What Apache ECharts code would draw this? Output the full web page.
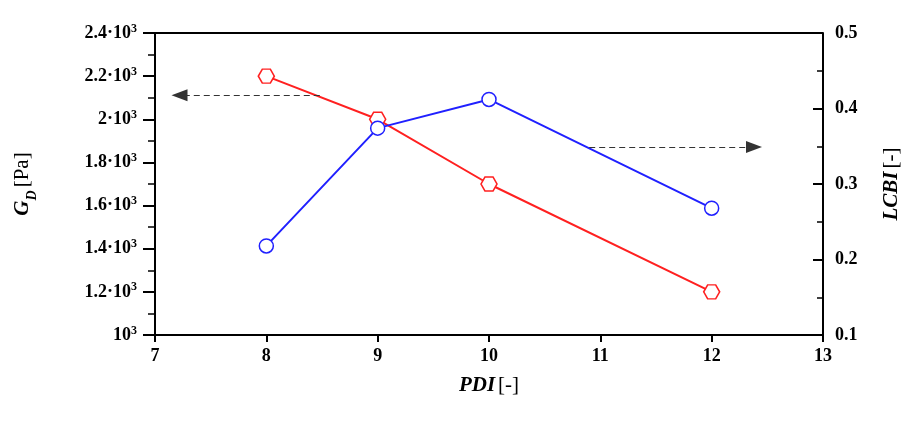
<!DOCTYPE html>
<html>
<head>
<meta charset="UTF-8">
<script src="https://cdn.jsdelivr.net/npm/echarts@6/dist/echarts.min.js"></script>
</head>
<body style="margin:0;background:#fff">
<div id="main" style="width:919px;height:423px;"></div>
<script>
var pdi = [8, 9, 10, 12];
var gd = [2200, 2000, 1700, 1200];
var lcbi = [0.218, 0.374, 0.412, 0.268];
var leftTicks = {1000: '10', 1200: '1.2·10', 1400: '1.4·10', 1600: '1.6·10', 1800: '1.8·10',
    2000: '2·10', 2200: '2.2·10', 2400: '2.4·10'};

var hexagon = 'path://M-1,0 L-0.5,-0.866 L0.5,-0.866 L1,0 L0.5,0.866 L-0.5,0.866 Z';
var font = 'Liberation Serif';

var myChart = echarts.init(document.getElementById('main'));
var option = {
    textStyle: {fontFamily: font},
    grid: {left: 155, right: 96, top: 33, bottom: 88},
    xAxis: {
        type: 'value', min: 7, max: 13, interval: 1,
        name: '{i|PDI} {n|[-]}', nameLocation: 'middle', nameGap: 40,
        nameTextStyle: {rich: {i: {fontStyle: 'italic', fontWeight: 'bold', fontSize: 21, fontFamily: font},
            n: {fontSize: 21, fontFamily: font}}},
        axisLine: {lineStyle: {color: '#000', width: 2}},
        axisTick: {inside: false, length: 7, lineStyle: {width: 2}},
        axisLabel: {color: '#000', fontWeight: 'bold', fontSize: 18, margin: 12},
        splitLine: {show: false}
    },
    yAxis: [{
        type: 'value', min: 1000, max: 2400, interval: 200,
        name: '{i|G}{s|D} {n|[Pa]}', nameLocation: 'middle', nameGap: 122,
        nameTextStyle: {rich: {i: {fontStyle: 'italic', fontWeight: 'bold', fontSize: 21, fontFamily: font},
            s: {fontStyle: 'italic', fontWeight: 'bold', fontSize: 14, fontFamily: font, verticalAlign: 'bottom', padding: [0, 0, -6, 0]},
            n: {fontSize: 21, fontFamily: font}}},
        axisLine: {show: true, lineStyle: {color: '#000', width: 2}},
        axisTick: {show: true, length: 12, lineStyle: {width: 2}},
        minorTick: {show: true, splitNumber: 2, length: 7, lineStyle: {color: '#000', width: 1.5}},
        axisLabel: {
            color: '#000', margin: 18,
            formatter: function (v) { return '{b|' + leftTicks[v] + '}{s|3}'; },
            rich: {b: {fontWeight: 'bold', fontSize: 18, fontFamily: font, color: '#000'},
                s: {fontWeight: 'bold', fontSize: 12, fontFamily: font, color: '#000', verticalAlign: 'top', padding: [0, 0, 9, 0]}}
        },
        splitLine: {show: false}
    }, {
        type: 'value', min: 0.1, max: 0.5, interval: 0.1, position: 'right',
        name: '{i|LCBI} {n|[-]}', nameLocation: 'middle', nameGap: 58, nameRotate: 90,
        nameTextStyle: {rich: {i: {fontStyle: 'italic', fontWeight: 'bold', fontSize: 21, fontFamily: font},
            n: {fontSize: 21, fontFamily: font}}},
        axisLine: {show: true, lineStyle: {color: '#000', width: 2}},
        axisTick: {show: true, inside: true, length: 10, lineStyle: {width: 2}},
        minorTick: {show: true, splitNumber: 2, length: 6, lineStyle: {color: '#000', width: 1.5}},
        axisLabel: {color: '#000', fontWeight: 'bold', fontSize: 18, margin: 12,
            formatter: function (v) { return v.toFixed(1); }},
        splitLine: {show: false}
    }],
    graphic: [{type: 'line', shape: {x1: 145, y1: 33, x2: 823, y2: 33}, style: {stroke: '#000', lineWidth: 2}}],
    series: [{
        type: 'line', yAxisIndex: 0,
        data: pdi.map(function (x, i) { return [x, gd[i]]; }),
        symbol: hexagon, symbolSize: [16, 14], showAllSymbol: true,
        itemStyle: {color: '#fff', borderColor: '#ff2020', borderWidth: 1.5},
        lineStyle: {color: '#ff2020', width: 2},
        markLine: {
            silent: true, symbol: ['none', 'triangle'], symbolSize: [12, 16],
            lineStyle: {color: '#333', type: [6, 4], width: 1.2},
            label: {show: false},
            data: [[{coord: [8.48, 2112]}, {coord: [7.22, 2112]}]]
        },
        z: 3
    }, {
        type: 'line', yAxisIndex: 1,
        data: pdi.map(function (x, i) { return [x, lcbi[i]]; }),
        symbol: 'circle', symbolSize: 14,
        itemStyle: {color: '#fff', borderColor: '#2020ff', borderWidth: 1.5},
        lineStyle: {color: '#2020ff', width: 2},
        markLine: {
            silent: true, symbol: ['none', 'triangle'], symbolSize: [12, 16],
            lineStyle: {color: '#333', type: [6, 4], width: 1.2},
            label: {show: false},
            data: [[{coord: [10.9, 0.349]}, {coord: [12.38, 0.349]}]]
        },
        z: 4
    }]
};
myChart.setOption(option);
</script>
</body>
</html>
